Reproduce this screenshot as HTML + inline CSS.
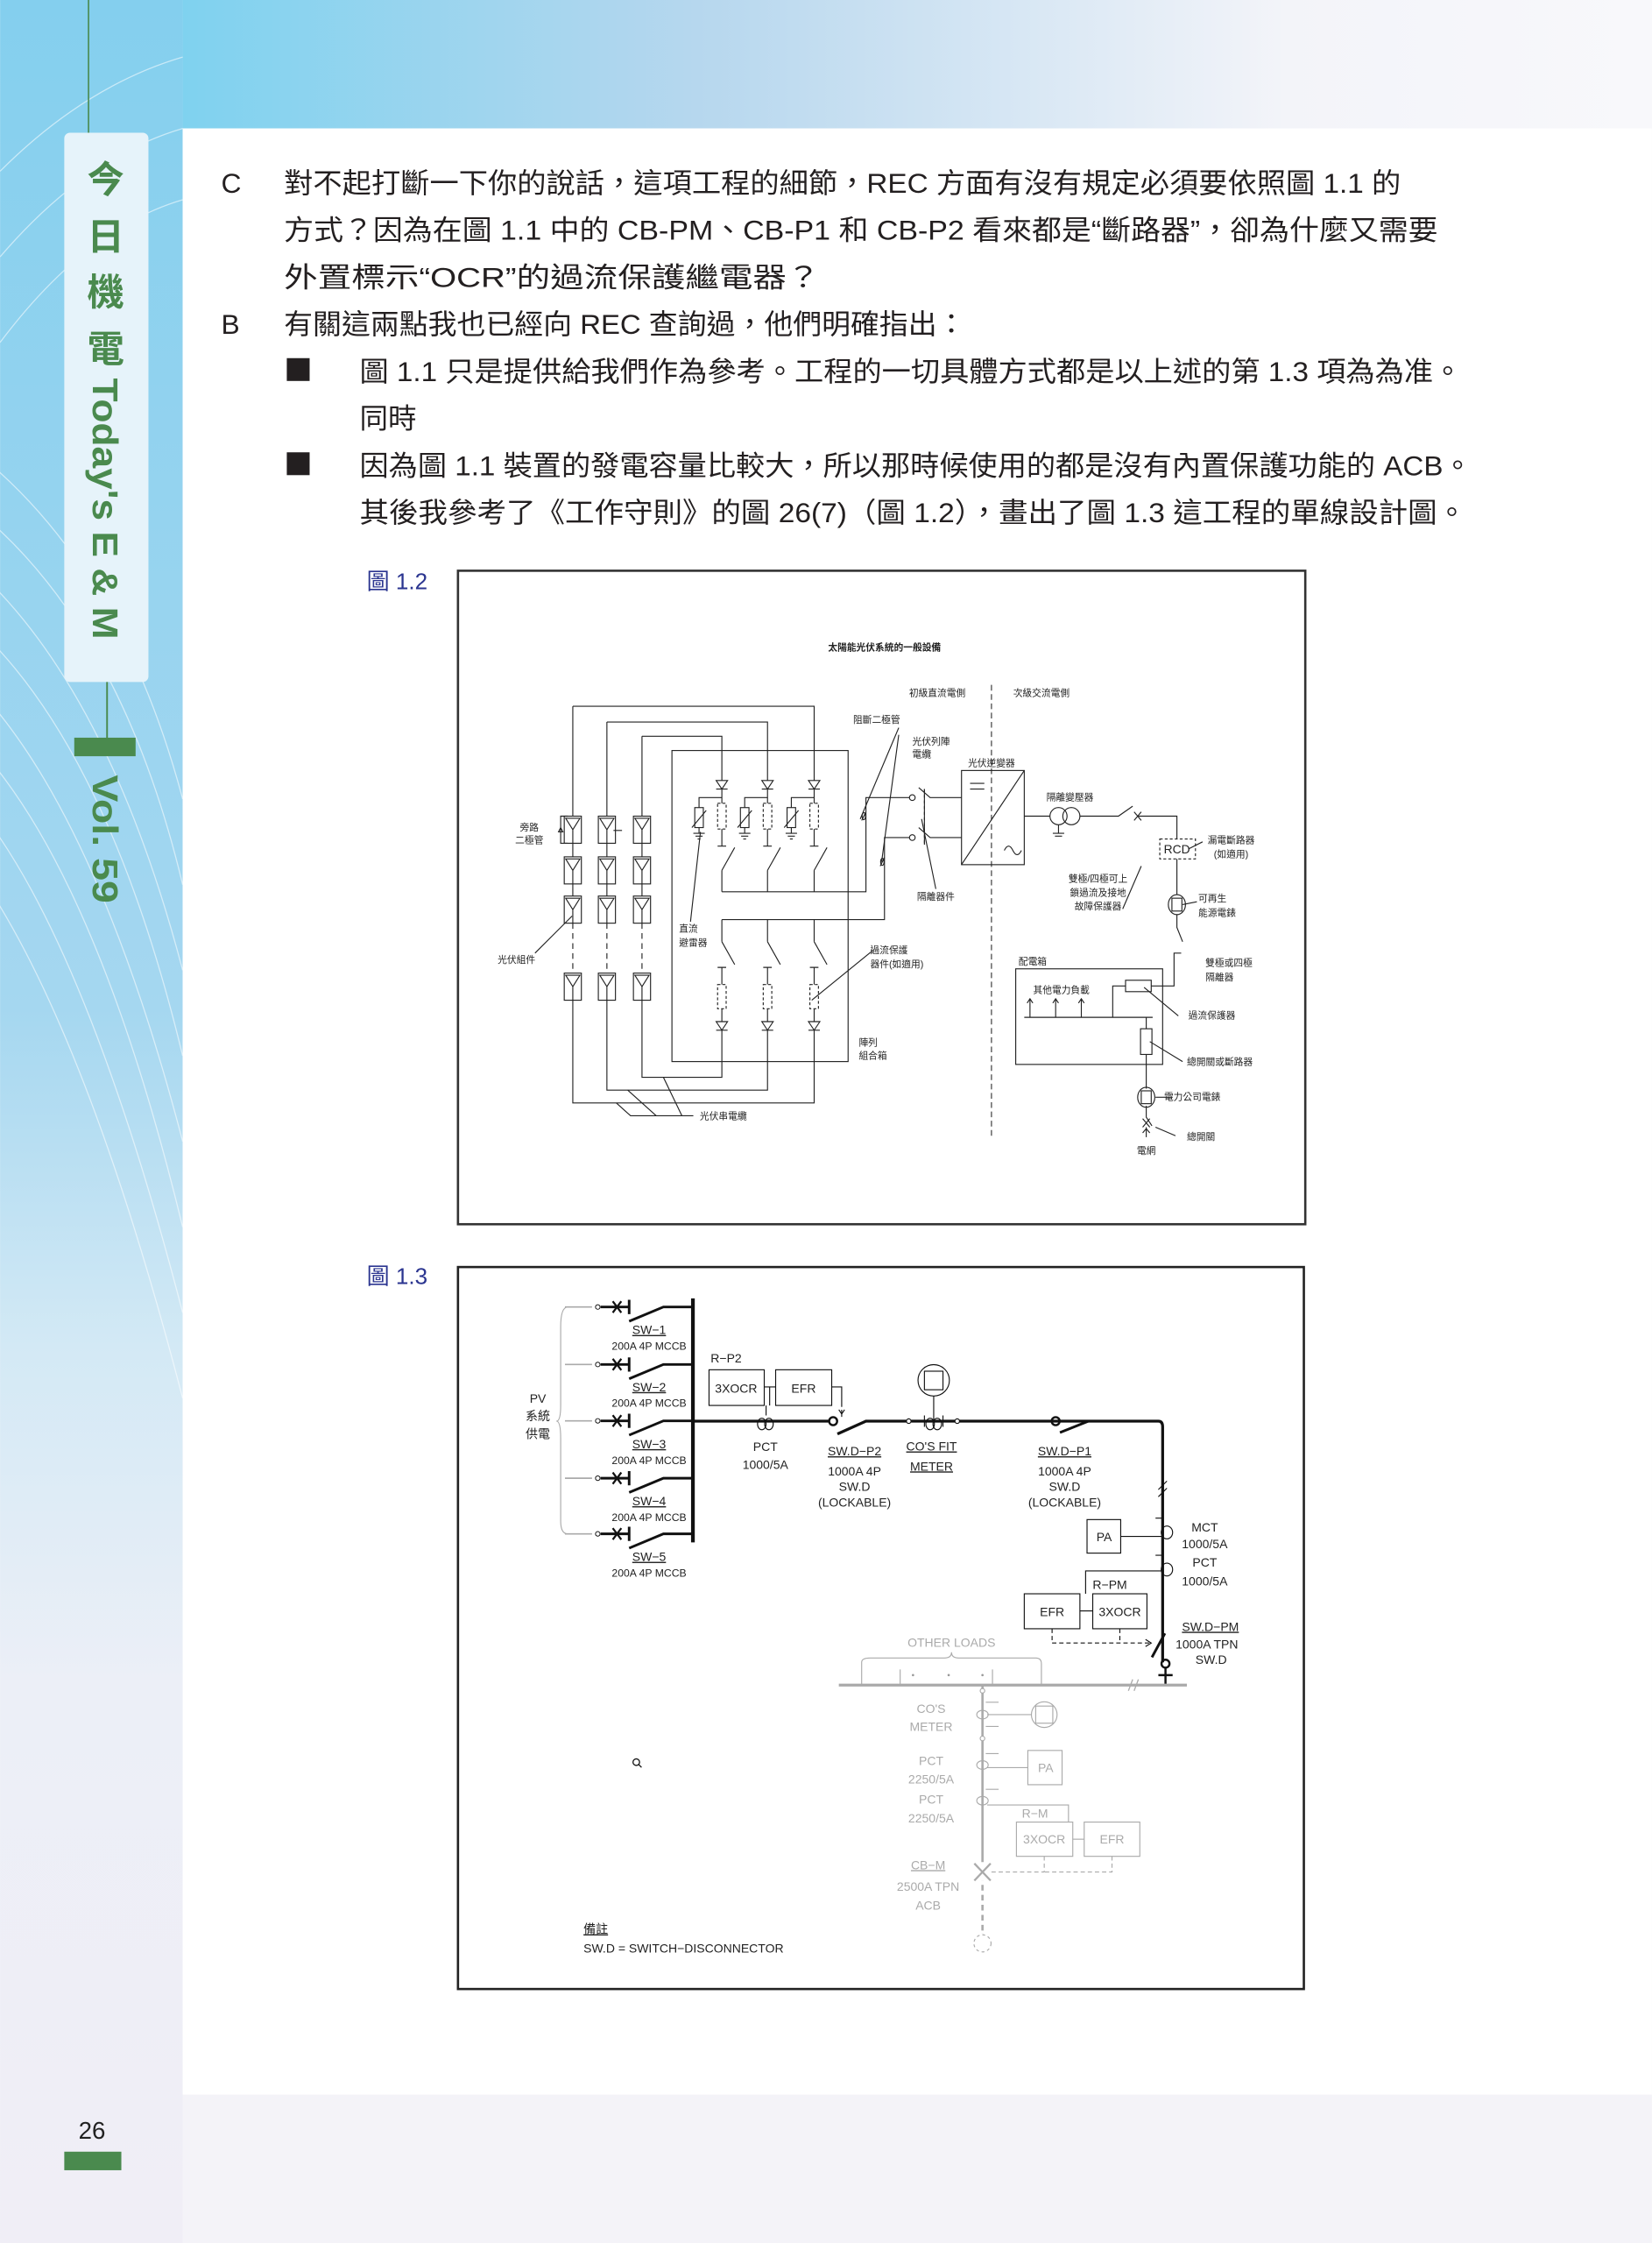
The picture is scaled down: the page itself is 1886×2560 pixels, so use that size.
<!DOCTYPE html>
<html><head><meta charset="utf-8"><style>
html,body{margin:0;padding:0;background:#fff}
svg{display:block}
.b{font-family:"Liberation Sans","Noto Sans CJK TC",sans-serif;fill:#231f20;font-size:19.5px}
.s{font-family:"Liberation Sans","Noto Sans CJK TC",sans-serif;fill:#222;font-size:6.6px;text-anchor:middle}
.c{font-family:"Liberation Sans Narrow","Liberation Sans","Noto Sans CJK TC",sans-serif;fill:#222;font-size:8.6px;text-anchor:middle}
.g{fill:#aaa}
</style></head><body>
<svg width="1886" height="2560" viewBox="0 0 1158 1572" xmlns="http://www.w3.org/2000/svg">
<defs>
<linearGradient id="side" x1="0" y1="0" x2="0" y2="1">
<stop offset="0" stop-color="#84cfee"/><stop offset="0.45" stop-color="#a5d7f0"/><stop offset="0.6" stop-color="#d3e9f5"/><stop offset="0.75" stop-color="#eceff7"/><stop offset="1" stop-color="#f0eef6"/></linearGradient>
<linearGradient id="top" x1="0" y1="0" x2="1" y2="0">
<stop offset="0" stop-color="#7fd2ef"/><stop offset="0.35" stop-color="#b6d7ee"/><stop offset="0.75" stop-color="#f3f4f9"/><stop offset="1" stop-color="#f8f8fb"/></linearGradient>
<g id="mod"><rect x="-6" y="-9.5" width="12" height="19"/><path d="M-5,-8 L5,-8 L0,0 Z M0,0 V9.5"/></g>
<g id="dio"><path d="M-4,-3 H4 L0,3 Z M-4,3 H4"/></g>
</defs>
<rect width="1158" height="1572" fill="#f4f3f8"/>
<rect x="0" y="0" width="128" height="1572" fill="url(#side)"/>
<rect x="128" y="0" width="1030" height="90" fill="url(#top)"/>
<g stroke="#fff" stroke-opacity="0.55" fill="none" stroke-width="0.8">
<path d="M-40,300 Q80,380 128,560"/><path d="M-40,340 Q80,420 128,620"/><path d="M-40,380 Q70,460 128,680"/><path d="M-40,420 Q70,500 128,740"/><path d="M-40,460 Q60,540 128,800"/><path d="M-40,500 Q60,580 128,860"/><path d="M-40,540 Q50,620 128,920"/><path d="M-40,580 Q50,680 128,980"/>
<path d="M0,120 Q60,60 128,40"/><path d="M0,180 Q60,110 128,90"/><path d="M0,240 Q60,160 128,140"/>
</g>
<rect x="128" y="90" width="1030" height="1378" fill="#fff"/>
<!-- sidebar -->
<line x1="62" y1="0" x2="62" y2="94" stroke="#4a8a4e" stroke-width="1"/>
<rect x="45" y="93" width="59" height="385" rx="4" fill="#e6f3fa"/>
<line x1="75" y1="478" x2="75" y2="520" stroke="#4a8a4e" stroke-width="1.2"/>
<rect x="52" y="517" width="43" height="13" fill="#4a8a4e"/>
<g fill="#4a8a4e" font-family="Liberation Sans,'Noto Sans CJK TC',sans-serif" font-weight="bold" text-anchor="middle" font-size="26">
<text x="74" y="135">今</text><text x="74" y="175">日</text><text x="74" y="214">機</text><text x="74" y="254">電</text>
<text transform="translate(65,265) rotate(90)" font-size="25" text-anchor="start" textLength="183" lengthAdjust="spacingAndGlyphs">Today's E &amp; M</text>
<text transform="translate(65,543) rotate(90)" font-size="25" text-anchor="start" textLength="90" lengthAdjust="spacingAndGlyphs">Vol. 59</text>
</g>
<text x="55" y="1499" font-family="Liberation Sans,sans-serif" font-size="17" fill="#222">26</text>
<rect x="45" y="1508" width="40" height="13" fill="#4a8a4e"/>
<!-- body text -->
<text class="b" x="155" y="135">C</text>
<text class="b" x="199" y="135" textLength="783" lengthAdjust="spacingAndGlyphs">對不起打斷一下你的說話，這項工程的細節，REC 方面有沒有規定必須要依照圖 1.1 的</text>
<text class="b" x="199" y="168" textLength="809" lengthAdjust="spacingAndGlyphs">方式？因為在圖 1.1 中的 CB-PM、CB-P1 和 CB-P2 看來都是“斷路器”，卻為什麼又需要</text>
<text class="b" x="199" y="201" textLength="376" lengthAdjust="spacingAndGlyphs">外置標示“OCR”的過流保護繼電器？</text>
<text class="b" x="155" y="234">B</text>
<text class="b" x="199" y="234" textLength="478" lengthAdjust="spacingAndGlyphs">有關這兩點我也已經向 REC 查詢過，他們明確指出：</text>
<rect x="201" y="251" width="16" height="16" fill="#231f20"/>
<text class="b" x="252" y="267" textLength="773" lengthAdjust="spacingAndGlyphs">圖 1.1 只是提供給我們作為參考。工程的一切具體方式都是以上述的第 1.3 項為為准。</text>
<text class="b" x="252" y="300" textLength="40" lengthAdjust="spacingAndGlyphs">同時</text>
<rect x="201" y="317" width="16" height="16" fill="#231f20"/>
<text class="b" x="252" y="333" textLength="780" lengthAdjust="spacingAndGlyphs">因為圖 1.1 裝置的發電容量比較大，所以那時候使用的都是沒有內置保護功能的 ACB。</text>
<text class="b" x="252" y="366" textLength="776" lengthAdjust="spacingAndGlyphs">其後我參考了《工作守則》的圖 26(7)（圖 1.2），畫出了圖 1.3 這工程的單線設計圖。</text>
<text x="257" y="413" font-family="Liberation Sans,'Noto Sans CJK TC',sans-serif" font-size="16" fill="#2b3590">圖 1.2</text>
<text x="257" y="900" font-family="Liberation Sans,'Noto Sans CJK TC',sans-serif" font-size="16" fill="#2b3590">圖 1.3</text>
<!-- FIG 1.2 -->
<rect x="321" y="400" width="594" height="458" fill="#fff" stroke="#333" stroke-width="1.6"/>
<text class="s" x="620" y="456" font-weight="bold" font-size="7">太陽能光伏系統的一般設備</text>
<text class="s" x="657" y="488">初級直流電側</text><text class="s" x="730" y="488">次級交流電側</text>
<line x1="695" y1="480" x2="695" y2="796" stroke="#333" stroke-width="0.7" stroke-dasharray="4,2.5"/>
<g stroke="#222" fill="none" stroke-width="0.7">
<use href="#mod" x="401.5" y="581.5"/><use href="#mod" x="401.5" y="610"/><use href="#mod" x="401.5" y="637.5"/><use href="#mod" x="401.5" y="691.5"/>
<use href="#mod" x="425.4" y="581.5"/><use href="#mod" x="425.4" y="610"/><use href="#mod" x="425.4" y="637.5"/><use href="#mod" x="425.4" y="691.5"/>
<use href="#mod" x="450" y="581.5"/><use href="#mod" x="450" y="610"/><use href="#mod" x="450" y="637.5"/><use href="#mod" x="450" y="691.5"/>
<path d="M401.5,495 V572 M401.5,591 V600.5 M401.5,619.5 V628 M401.5,701 V773 H570.7 V722"/>
<path d="M425.4,506 V572 M425.4,591 V600.5 M425.4,619.5 V628 M425.4,701 V764 H538 V722"/>
<path d="M450,516 V572 M450,591 V600.5 M450,619.5 V628 M450,701 V755 H506 V722"/>
<path d="M401.5,495 H570.7 V547 M425.4,506 H538 V547 M450,516 H506 V547"/>
<path d="M401.5,647 V682 M425.4,647 V682 M450,647 V682" stroke-dasharray="4,3"/>
<path d="M398,572 H393 V591 H398 M393,580 l-1.5,3 h3 z"/>
<rect x="471" y="526" width="123.5" height="218"/>
<g id="str">
<use href="#dio" x="506" y="550"/>
<path d="M506,553 V563 M506,559 H490 V566 M490,580 V584 M486,584 h8 M487.5,586 h5 M489,588 h2 M506,581 V593 M503,593 h6 M506,610 V625 M506,610 l9,-16"/>
<rect x="487" y="566" width="6" height="14"/><path d="M485,580 l10,-12"/>
<rect x="503" y="563" width="6" height="18" stroke-dasharray="2,1.5"/>
<path d="M506,644.5 V660 M506,660 l9,16 M503,678 h6 M506,678 V690 M506,707 V716"/>
<rect x="503" y="690" width="6" height="17" stroke-dasharray="2,1.5"/>
<use href="#dio" x="506" y="719"/>
</g>
<use href="#str" x="32"/><use href="#str" x="64.7"/>
<path d="M506,625 H607 V559 H637.5 M506,644.5 H620 V587 H637.5"/>
<circle cx="639.5" cy="559" r="2"/><circle cx="639.5" cy="587" r="2"/>
<path d="M644,552 l8,7 H674 M644,580 l8,7 H674 M648,553 V592" />
<path d="M648,553 V592" stroke-dasharray="2,2"/>
<path d="M607,569 l-3,6 M620,601 l-3,6"/><ellipse cx="605.5" cy="572" rx="1.2" ry="2.5"/><ellipse cx="618.5" cy="604" rx="1.2" ry="2.5"/>
<path d="M603,574 L630,510 M618,604 L630,515"/>
<rect x="674" y="540" width="44" height="66"/><path d="M674,606 L718,540 M680,549 h10 M680,553 h10 M704,596 q3,-6 6,0 q3,6 6,0"/>
<path d="M718,572 H736"/><circle cx="742" cy="572" r="6"/><circle cx="751" cy="572" r="6"/><path d="M757,572 H784 l10,-7 M797,572 H825 V588 M742,578 V584 M738,584 h8 M739.5,586 h5"/>
<path d="M795,569 l5,6 M800,569 l-5,6"/>
<rect x="813" y="588" width="25" height="14" stroke-dasharray="2,1.5"/>
<path d="M825,602 V627 M825,641 V650 l4,10"/>
<ellipse cx="825" cy="634" rx="6" ry="7"/><rect x="821.5" y="629.5" width="7" height="9"/>
<rect x="712" y="679" width="103" height="67"/>
<path d="M718,713 H808 M722,713 V700 M720,703 l2,-3 2,3 M740,713 V700 M738,703 l2,-3 2,3 M758,713 V700 M756,703 l2,-3 2,3 M780,713 V691 H789 M807,691 H823 V668 H828"/>
<rect x="789" y="687" width="18" height="8"/>
<path d="M803.5,713 V721 M803.5,739 V763 M803.5,775 V783 l4,6 M801,790 l5,-6 M801,784 l5,6 M803.5,790 V797 M801,794 l2.5,-3 2.5,3"/>
<rect x="799.5" y="721" width="8" height="18"/>
<ellipse cx="803.5" cy="769" rx="6" ry="7"/><rect x="800" y="764.5" width="7" height="9"/>
<path d="M802,692 L826,712 M806,730 L829,744 M810,769 L822,769 M810,790 L824,796 M800,607 L787,637 M833,595 L843,590 M829,634 L839,632 M436,582 L430,582 M401,642 L375,668 M491,583 L484,646 M569,701 L612,666 M432,773 L442,782 H486 M465,755 L478,782 M440,764 L460,782 M646,574 L656,623"/>
</g>
<g class="s">
<text x="614.5" y="506.6">阻斷二極管</text>
<text x="639.5" y="522" text-anchor="start">光伏列陣</text><text x="639.5" y="531" text-anchor="start">電纜</text>
<text x="695" y="537">光伏逆變器</text><text x="750" y="561">隔離變壓器</text>
<text x="863" y="591">漏電斷路器</text><text x="863" y="601">(如適用)</text>
<text x="825" y="598" font-size="8.5">RCD</text>
<text x="371" y="582">旁路</text><text x="371" y="591">二極管</text>
<text x="769.7" y="618">雙極/四極可上</text><text x="769.7" y="628">鎖過流及接地</text><text x="769.7" y="637.5">故障保護器</text>
<text x="656" y="630.5">隔離器件</text>
<text x="840" y="632" text-anchor="start">可再生</text><text x="840" y="642" text-anchor="start">能源電錶</text>
<text x="476" y="653" text-anchor="start">直流</text><text x="476" y="663" text-anchor="start">避雷器</text>
<text x="362" y="675">光伏組件</text>
<text x="610" y="668" text-anchor="start">過流保護</text><text x="610" y="678" text-anchor="start">器件(如適用)</text>
<text x="714" y="676" text-anchor="start">配電箱</text>
<text x="845" y="677" text-anchor="start">雙極或四極</text><text x="845" y="687" text-anchor="start">隔離器</text>
<text x="744" y="696">其他電力負載</text>
<text x="833" y="714" text-anchor="start">過流保護器</text>
<text x="602" y="733" text-anchor="start">陣列</text><text x="602" y="742" text-anchor="start">組合箱</text>
<text x="832" y="746.5" text-anchor="start">總開關或斷路器</text>
<text x="816" y="771" text-anchor="start">電力公司電錶</text>
<text x="507" y="784.5">光伏串電纜</text>
<text x="832" y="799" text-anchor="start">總開關</text>
<text x="803.5" y="808.6">電網</text>
</g>
<!-- FIG 1.3 -->
<rect x="321" y="888" width="593" height="506" fill="#fff" stroke="#222" stroke-width="1.6"/>
<g stroke="#111" fill="none">
<line x1="485.7" y1="910" x2="485.7" y2="1081" stroke-width="2.6"/>
<g id="sw">
<path d="M396,916 H415" stroke="#aaa" stroke-width="1"/>
<circle cx="419" cy="916" r="1.6" stroke-width="0.6"/>
<path d="M421,916 H441 M441,911 V921" stroke-width="1.8"/>
<path d="M429.5,912 l6,8 M435.5,912 l-6,8" stroke-width="1.4"/>
<path d="M441,926 L465,916 H485.7" stroke-width="1.8"/>
</g>
<use href="#sw" y="40.3"/><use href="#sw" y="79.8"/><use href="#sw" y="120"/><use href="#sw" y="159"/>
<path d="M398,916 Q393,916 393,930 V985 Q393,996 390,996 Q393,996 393,1008 V1066 Q393,1075 398,1075" stroke="#aaa" stroke-width="0.7"/>
<path d="M485.7,996 H581" stroke-width="2"/><circle cx="584" cy="996" r="2.8" stroke-width="1.5"/>
<path d="M587,1005 L607,996 H812 Q815,996 815,1000 V1165" stroke-width="2"/>
<circle cx="637" cy="996" r="1.6" fill="#fff" stroke-width="0.7"/><circle cx="671" cy="996" r="1.6" fill="#fff" stroke-width="0.7"/>
<circle cx="740" cy="996" r="2.8" stroke-width="1.5"/><path d="M743,1004 L763,996" stroke-width="1.8"/>
<g stroke-width="0.7">
<rect x="497" y="960" width="38.7" height="25"/><rect x="543.7" y="960" width="39.3" height="25"/>
<path d="M535.7,972 H543.7 M539.5,972 V985 M537,985 V992 M583,972 H590 V986 M590,988 V993" />
<path d="M588,988 l2,3 2,-3" />
<ellipse cx="534" cy="998" rx="3" ry="4"/><ellipse cx="539" cy="998" rx="3" ry="4"/>
<circle cx="654.5" cy="967.4" r="11"/><rect x="648" y="961" width="13" height="13"/>
<path d="M654.5,978.4 V996"/><ellipse cx="652" cy="998" rx="3" ry="4"/><ellipse cx="657" cy="998" rx="3" ry="4"/>
<path d="M648,992 v8 M661,992 v8"/>
<path d="M812,1049 l6,-6 M812,1044 l6,-6"/>
<ellipse cx="818" cy="1074" rx="4" ry="4.5"/><ellipse cx="818" cy="1100" rx="4" ry="4.5"/>
<path d="M815,1064 h-5 M815,1090 h-5"/>
<rect x="762" y="1065" width="23.6" height="23.5"/><path d="M785.6,1076.8 H815"/>
<path d="M815,1101 H761 V1117"/>
<rect x="718" y="1117" width="39" height="24.5"/><rect x="766" y="1117" width="38" height="24.5"/>
<path d="M757,1129 H766"/>
<path d="M737.5,1141.5 V1151.5 H806 M785,1141.5 V1151.5" stroke-dasharray="3,2"/>
<path d="M803,1149 l4,2.5 -4,2.5"/>
</g>
<path d="M816.6,1144.7 L807.5,1161.5" stroke-width="1.8"/>
<circle cx="817" cy="1166" r="2.8" stroke-width="1.5"/><path d="M817,1169 V1181 M812,1174 H822" stroke-width="1.5"/>
<g stroke="#aaa">
<path d="M588,1181 H832" stroke-width="2"/>
<path d="M791,1185 l3,-8 M795,1185 l3,-8" stroke-width="0.8"/>
<g stroke-width="0.7">
<path d="M604,1181 V1165 Q604,1162 610,1162 H662 Q667,1162 667,1158 Q667,1162 672,1162 H726 Q730,1162 730,1166 V1181 M631,1170 V1181 M695.7,1170 V1181"/>
<path d="M688.7,1181 V1305 M688.7,1318 V1355" stroke-width="1.6"/>
<path d="M688.7,1318 V1355" stroke="#fff" stroke-width="2" stroke-dasharray="3,4"/>
<circle cx="688.7" cy="1185" r="1.6" fill="#fff"/><circle cx="688.7" cy="1218.4" r="1.6" fill="#fff"/>
<ellipse cx="688.7" cy="1201.7" rx="4" ry="3"/><path d="M691,1193 h9 M691,1210 h9 M692,1201.7 H723"/>
<circle cx="732" cy="1201.7" r="9"/><rect x="726" y="1195.7" width="12" height="12"/>
<ellipse cx="688.7" cy="1237" rx="4" ry="3"/><path d="M691,1229 h9 M692,1238.8 H720.5"/>
<rect x="720.5" y="1226.8" width="24" height="24"/>
<ellipse cx="688.7" cy="1262" rx="4" ry="3"/><path d="M691,1254 h9 M692,1265 H749 V1277"/>
<rect x="712.5" y="1277" width="39.5" height="24"/><rect x="760" y="1277" width="39" height="24"/><path d="M752,1289 H760"/>
<path d="M732,1301 V1312 H693 M779.5,1301 V1312 H732" stroke-dasharray="3,2"/>
<path d="M683,1306 l11.4,12 M694.4,1306 l-11.4,12" stroke-width="1.4"/>
<circle cx="688.7" cy="1362" r="6" stroke-dasharray="2,2"/>
</g></g>
<circle cx="446" cy="1235" r="2.3" stroke-width="0.8"/><path d="M447.7,1236.7 l2,2" stroke-width="0.8"/>
</g>
<g fill="#222"><circle cx="640" cy="1174" r="0.8" fill="#999"/><circle cx="665" cy="1174" r="0.8" fill="#999"/><circle cx="688.7" cy="1174" r="0.8" fill="#999"/></g>
<g class="c">
<text x="377" y="983">PV</text><text x="377" y="995.5">系統</text><text x="377" y="1008">供電</text>
<text x="455" y="935" text-decoration="underline">SW−1</text><text x="455" y="946" font-size="7.5">200A 4P MCCB</text>
<text x="455" y="975" text-decoration="underline">SW−2</text><text x="455" y="986" font-size="7.5">200A 4P MCCB</text>
<text x="455" y="1015" text-decoration="underline">SW−3</text><text x="455" y="1026" font-size="7.5">200A 4P MCCB</text>
<text x="455" y="1055" text-decoration="underline">SW−4</text><text x="455" y="1066" font-size="7.5">200A 4P MCCB</text>
<text x="455" y="1094" text-decoration="underline">SW−5</text><text x="455" y="1105" font-size="7.5">200A 4P MCCB</text>
<text x="509" y="955">R−P2</text><text x="516" y="976">3XOCR</text><text x="563.3" y="976">EFR</text>
<text x="536.5" y="1017">PCT</text><text x="536.5" y="1029.5">1000/5A</text>
<text x="599" y="1020" text-decoration="underline">SW.D−P2</text><text x="599" y="1034">1000A 4P</text><text x="599" y="1044.7">SW.D</text><text x="599" y="1056">(LOCKABLE)</text>
<text x="653" y="1016.6" text-decoration="underline">CO'S FIT</text><text x="653" y="1030.6" text-decoration="underline">METER</text>
<text x="746.3" y="1020" text-decoration="underline">SW.D−P1</text><text x="746.3" y="1034">1000A 4P</text><text x="746.3" y="1044.7">SW.D</text><text x="746.3" y="1056">(LOCKABLE)</text>
<text x="774" y="1080">PA</text>
<text x="844.5" y="1073.5">MCT</text><text x="844.5" y="1085">1000/5A</text><text x="844.5" y="1098">PCT</text><text x="844.5" y="1111">1000/5A</text>
<text x="778" y="1113.6">R−PM</text><text x="737.5" y="1132.5">EFR</text><text x="785" y="1132.5">3XOCR</text>
<text x="848.5" y="1143" text-decoration="underline">SW.D−PM</text><text x="846" y="1155.5">1000A TPN</text><text x="849" y="1166">SW.D</text>
<g class="g"><text x="667" y="1154">OTHER LOADS</text>
<text x="652.7" y="1200.6">CO'S</text><text x="652.7" y="1213">METER</text>
<text x="652.7" y="1237">PCT</text><text x="652.7" y="1250">2250/5A</text><text x="652.7" y="1264">PCT</text><text x="652.7" y="1277.3">2250/5A</text>
<text x="733" y="1242">PA</text><text x="725.5" y="1274">R−M</text><text x="732" y="1292">3XOCR</text><text x="779.5" y="1292">EFR</text>
<text x="650.6" y="1310" text-decoration="underline">CB−M</text><text x="650.6" y="1325">2500A TPN</text><text x="650.6" y="1338.5">ACB</text></g>
<text x="409" y="1355" text-anchor="start" text-decoration="underline">備註</text>
<text x="409" y="1368.5" text-anchor="start">SW.D = SWITCH−DISCONNECTOR</text>
</g>
</svg>
</body></html>
